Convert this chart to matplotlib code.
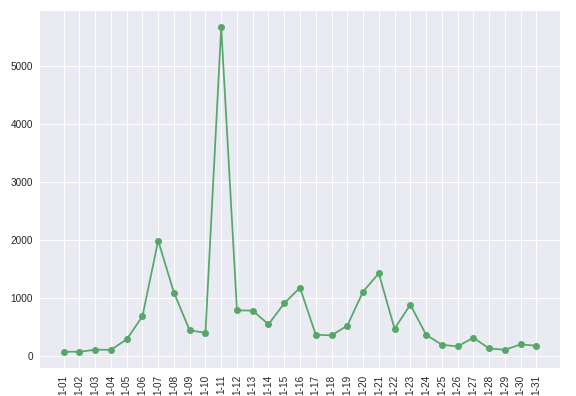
import matplotlib
matplotlib.use("Agg")
import matplotlib.pyplot as plt

plt.style.use("seaborn-v0_8")

# daily values, January
days = [f"1-{d:02d}" for d in range(1, 32)]
counts = [80, 80, 115, 115, 293, 690, 1995, 1098, 448, 408,
          5670, 793, 790, 552, 914, 1184, 374, 362, 529, 1115,
          1431, 477, 891, 374, 201, 172, 322, 138, 115, 207, 184]

fig, ax = plt.subplots(figsize=(8, 5.5), dpi=72)
ax.plot(days, counts, color="#55A868", marker="o")
plt.xticks(rotation=90)
# labels run off the bottom edge in the original
fig.subplots_adjust(left=40/576, right=560/576, top=1 - 11/396, bottom=1 - 368/396)
fig.savefig("out.png", dpi=72)
